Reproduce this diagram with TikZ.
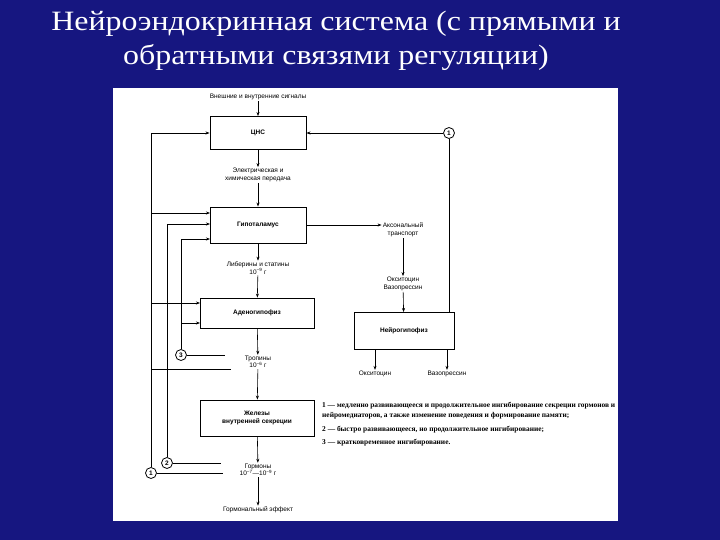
\documentclass[tikz,border=0pt]{standalone}
\usepackage{fontspec}
\setmainfont{Liberation Serif}
\newfontfamily\diag{Liberation Sans}
\usetikzlibrary{arrows.meta}
\definecolor{slideblue}{RGB}{22,22,128}
\tikzset{
	box/.style={draw,line width=0.9pt,minimum width=96pt,minimum height=33pt,font=\diag\fontsize{6.5}{7.5}\selectfont\bfseries,align=center},
	lbl/.style={font=\diag\fontsize{6.5}{7.5}\selectfont,align=center,inner sep=1pt},
	circ/.style={draw,circle,line width=0.8pt,inner sep=0pt,minimum size=11pt,font=\diag\fontsize{6.5}{7}\selectfont\bfseries},
	arr/.style={-{Stealth[length=4pt,width=3pt]},line width=0.6pt},
	ln/.style={line width=0.6pt}
}
\begin{document}
\begin{tikzpicture}[x=1pt,y=-1pt]
	\fill[slideblue] (0,0) rectangle (720,540);
	\useasboundingbox (0,0) rectangle (720,540);
	\fill[white] (113,88) rectangle (618,521);
	\node[text=white,font=\fontsize{28}{34}\selectfont,align=center,xscale=1.14] (title) at (336,41)
		{Нейроэндокринная система (с прямыми и\\обратными связями регуляции)};
	% main column
	\node[lbl] (sig) at (258,97) {Внешние и внутренние сигналы};
	\node[box] (cns) at (258,133) {ЦНС};
	\node[lbl] (tr) at (258,175) {Электрическая и\\химическая передача};
	\node[box,minimum height=36pt] (hyp) at (258,225) {Гипоталамус};
	\node[lbl] (lib) at (258,268) {Либерины и статины\\10\textsuperscript{−9} г};
	\node[box,minimum width=114pt,minimum height=30pt] (aden) at (257,313) {Аденогипофиз};
	\node[lbl] (trop) at (258,362) {Тропины\\10\textsuperscript{−6} г};
	\node[box,minimum width=114pt,minimum height=36pt] (gl) at (257,418) {Железы\\внутренней секреции};
	\node[lbl] (horm) at (258,470) {Гормоны\\10\textsuperscript{−7}—10\textsuperscript{−9} г};
	\node[lbl] (eff) at (258,510) {Гормональный эффект};
	% right column
	\node[lbl] (ax) at (403,230) {Аксональный\\транспорт};
	\node[lbl] (ov) at (403,284) {Окситоцин\\Вазопрессин};
	\node[box,minimum width=100pt,minimum height=37pt] (neur) at (404,331) {Нейрогипофиз};
	\node[lbl] (oks) at (375,374) {Окситоцин};
	\node[lbl] (vaz) at (447,374) {Вазопрессин};
	% feedback circles
	\node[circ] (c1) at (449,133) {1};
	\node[circ] (f1) at (151,473) {1};
	\node[circ] (f2) at (167,463) {2};
	\node[circ] (f3) at (181,355) {3};
	\coordinate (h1) at (210,213);
	\coordinate (h2) at (210,224);
	\coordinate (h3) at (210,239);
	\coordinate (a1) at (200,303);
	\coordinate (a3) at (200,323);
	% forward arrows
	\draw[arr] (sig) -- (cns);
	\draw[arr] (cns) -- (tr);
	\draw[arr] (tr) -- (hyp);
	\draw[arr] (hyp) -- (lib);
	\draw[arr] (lib) -- (aden);
	\draw[arr] (aden) -- (trop);
	\draw[arr] (trop) -- (gl);
	\draw[arr] (gl) -- (horm);
	\draw[arr] (horm) -- (eff);
	\draw[arr] (hyp.east) -- (hyp.east -| ax.west);
	\draw[arr] (ax) -- (ov);
	\draw[arr] (ov) -- (neur);
	\draw[arr] (neur.south -| oks) -- (oks);
	\draw[arr] (neur.south -| vaz) -- (vaz);
	% feedback lines
	\draw[ln] (neur.north -| c1) -- (c1);
	\draw[arr] (c1) -- (cns);
	\draw[ln] (f1) -- (223,473);
	\draw[ln] (f2) -- (221,463);
	\draw[ln] (f3) -- (225,355);
	\draw[arr] (f1.north) |- (cns.west);
	\draw[arr] (f1.north |- h1) -- (h1);
	\draw[arr] (f1.north |- a1) -- (a1);
	\draw[ln] (152,369) -- (231,369);
	\draw[arr] (f2.north) |- (h2);
	\draw[arr] (f3.north) |- (h3);
	\draw[arr] (f3.north |- a3) -- (a3);
	% legend
	\node[font=\fontsize{7.4}{10.5}\selectfont\bfseries,align=justify,text width=293pt,anchor=north west,inner sep=0pt] (leg) at (322,402)
		{1 --- медленно развивающееся и продолжительное ингибирование секреции гормонов и нейромедиаторов, а также изменение поведения и формирование памяти;\\[3pt]
		2 --- быстро развивающееся, но продолжительное ингибирование;\\[3pt]
		3 --- кратковременное ингибирование.};
\end{tikzpicture}
\end{document}
